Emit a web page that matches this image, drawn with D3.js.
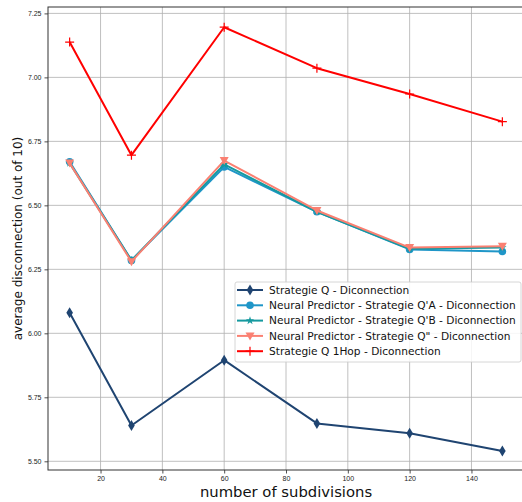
<!DOCTYPE html>
<html>
<head>
<meta charset="utf-8">
<style>
  body { margin: 0; background: #fff; }
  svg { font-family: "DejaVu Sans", sans-serif; }
  .grid line { stroke: #b0b0b0; stroke-width: 0.8px; }
  .tick text { font-size: 7px; fill: #222; }
</style>
</head>
<body>
<div id="chart"></div>
<script src="https://d3js.org/d3.v7.min.js"></script>
<script>
  var subdivisions = [10, 30, 60, 90, 120, 150];
  var xTicks = [20, 40, 60, 80, 100, 120, 140];
  var yTicks = [5.50, 5.75, 6.00, 6.25, 6.50, 6.75, 7.00, 7.25];

  var strategieQ   = [6.08, 5.64, 5.895, 5.648, 5.61, 5.54];
  var neuralQA     = [6.67, 6.285, 6.65, 6.475, 6.328, 6.32];
  var neuralQB     = [6.665, 6.285, 6.66, 6.475, 6.33, 6.335];
  var neuralQpp    = [6.665, 6.28, 6.675, 6.48, 6.335, 6.34];
  var strategie1Hop = [7.138, 6.696, 7.196, 7.036, 6.935, 6.827];

  var seriesNames = [
    "Strategie Q - Diconnection",
    "Neural Predictor - Strategie Q'A - Diconnection",
    "Neural Predictor - Strategie Q'B - Diconnection",
    "Neural Predictor - Strategie Q\" - Diconnection",
    "Strategie Q 1Hop - Diconnection"
  ];

  var series = [
    { name: seriesNames[0], values: strategieQ,    color: "#1f4471", marker: "diamond" },
    { name: seriesNames[1], values: neuralQA,      color: "#1f96c8", marker: "circle" },
    { name: seriesNames[2], values: neuralQB,      color: "#15999f", marker: "star" },
    { name: seriesNames[3], values: neuralQpp,     color: "#fa8072", marker: "tri" },
    { name: seriesNames[4], values: strategie1Hop, color: "#ff0000", marker: "plus" }
  ];

  var width = 522, height = 502;
  var margin = { left: 48, top: 7, right: -2, bottom: 32 };

  var svg = d3.select("#chart").append("svg")
      .attr("width", width).attr("height", height);

  var x = d3.scaleLinear().domain([3, 157]).range([margin.left, width - margin.right]);
  var y = d3.scaleLinear().domain([5.466, 7.275]).range([height - margin.bottom, margin.top]);

  // gridlines
  var grid = svg.append("g").attr("class", "grid");
  grid.selectAll(".gx").data(xTicks).enter().append("line")
      .attr("x1", d => x(d)).attr("x2", d => x(d))
      .attr("y1", y.range()[1]).attr("y2", y.range()[0]);
  grid.selectAll(".gy").data(yTicks).enter().append("line")
      .attr("x1", x.range()[0]).attr("x2", x.range()[1])
      .attr("y1", d => y(d)).attr("y2", d => y(d));

  // axes
  var xAxis = svg.append("g")
      .attr("transform", "translate(0," + y.range()[0] + ")")
      .call(d3.axisBottom(x).tickValues(xTicks).tickSize(3.5).tickPadding(3).tickFormat(d3.format("d")));
  var yAxis = svg.append("g")
      .attr("transform", "translate(" + x.range()[0] + ",0)")
      .call(d3.axisLeft(y).tickValues(yTicks).tickSize(3.5).tickPadding(3).tickFormat(d3.format(".2f")));
  [xAxis, yAxis].forEach(function (a) {
    a.select(".domain").remove();
    a.selectAll(".tick line").attr("stroke", "#222").attr("stroke-width", 0.8);
  });

  // spines
  svg.append("rect")
      .attr("x", x.range()[0]).attr("y", y.range()[1])
      .attr("width", x.range()[1] - x.range()[0])
      .attr("height", y.range()[0] - y.range()[1])
      .attr("fill", "none").attr("stroke", "#333").attr("stroke-width", 1);

  // markers
  function drawMarker(g, type, color) {
    if (type === "diamond") {
      g.append("path").attr("d", "M0,-5.5L3.3,0L0,5.5L-3.3,0Z").attr("fill", color);
    } else if (type === "circle") {
      g.append("circle").attr("r", 3.8).attr("fill", color);
    } else if (type === "star") {
      g.append("path").attr("d", d3.symbol().type(d3.symbolStar).size(22)()).attr("fill", color);
    } else if (type === "tri") {
      g.append("path").attr("d", "M-4.5,-3.5L4.5,-3.5L0,4.5Z").attr("fill", color);
    } else if (type === "plus") {
      g.append("path").attr("d", "M-4.5,0L4.5,0M0,-4.5L0,4.5")
          .attr("stroke", color).attr("stroke-width", 1.2).attr("fill", "none");
    }
  }

  var line = d3.line().x((d, i) => x(subdivisions[i])).y(d => y(d));

  series.forEach(function (s) {
    var g = svg.append("g");
    g.append("path").datum(s.values)
        .attr("d", line)
        .attr("fill", "none").attr("stroke", s.color).attr("stroke-width", 2)
        .attr("stroke-linejoin", "round");
    s.values.forEach(function (v, i) {
      var m = g.append("g").attr("transform", "translate(" + x(subdivisions[i]) + "," + y(v) + ")");
      drawMarker(m, s.marker, s.color);
    });
  });

  // axis labels
  svg.append("text")
      .attr("x", 286).attr("y", 497)
      .attr("text-anchor", "middle").attr("font-size", 14.8).attr("fill", "#111")
      .text("number of subdivisions");
  svg.append("text")
      .attr("transform", "translate(22," + ((y.range()[0] + y.range()[1]) / 2) + ") rotate(-90)")
      .attr("text-anchor", "middle").attr("font-size", 12).attr("fill", "#111")
      .text("average disconnection (out of 10)");

  // legend
  var legend = svg.append("g").attr("transform", "translate(235,282)");
  legend.append("rect")
      .attr("width", 286).attr("height", 80).attr("rx", 2)
      .attr("fill", "rgba(255,255,255,0.85)").attr("stroke", "#ccc").attr("stroke-width", 0.8);
  series.forEach(function (s, i) {
    var row = legend.append("g").attr("transform", "translate(0," + (8 + i * 15.3) + ")");
    row.append("line").attr("x1", 2).attr("x2", 28).attr("y1", 0).attr("y2", 0)
        .attr("stroke", s.color).attr("stroke-width", 2);
    drawMarker(row.append("g").attr("transform", "translate(15,0)"), s.marker, s.color);
    row.append("text").attr("x", 34).attr("y", 0).attr("dy", "0.35em")
        .attr("font-size", 10.6).attr("fill", "#111").text(s.name);
  });
</script>
</body>
</html>
